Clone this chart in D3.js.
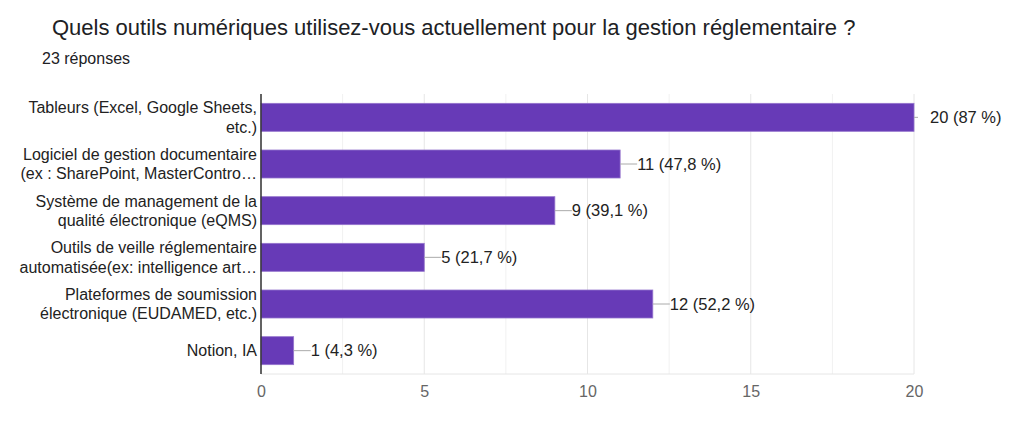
<!DOCTYPE html>
<html>
<head>
<meta charset="utf-8">
<script src="https://cdn.jsdelivr.net/npm/d3@7"></script>
<style>
  body { margin: 0; background: #fff; }
  svg { font-family: Arial, "Liberation Sans", sans-serif; }
</style>
</head>
<body>
<div id="chart"></div>
<script>
// chart data
const title = "Quels outils numériques utilisez-vous actuellement pour la gestion réglementaire ?";
const subtitle = "23 réponses";
const categories = [
    ["Tableurs (Excel, Google Sheets,", "etc.)"],
    ["Logiciel de gestion documentaire", "(ex : SharePoint, MasterContro\u2026"],
    ["Système de management de la", "qualité électronique (eQMS)"],
    ["Outils de veille réglementaire", "automatisée(ex: intelligence art\u2026"],
    ["Plateformes de soumission", "électronique (EUDAMED, etc.)"],
    ["Notion, IA"]
];
const counts = [20, 11, 9, 5, 12, 1];
const valueLabels = ["20 (87 %)", "11 (47,8 %)", "9 (39,1 %)", "5 (21,7 %)", "12 (52,2 %)", "1 (4,3 %)"];
const xTicks = [0, 5, 10, 15, 20];
const gridTicks = [0, 2.5, 5, 7.5, 10, 12.5, 15, 17.5, 20];

const width = 1024, height = 422;
const margin = { left: 261, right: 110, top: 94, bottom: 48 };
const chartWidth = width - margin.left - margin.right;
const chartHeight = height - margin.top - margin.bottom;

const svg = d3.select("#chart").append("svg")
    .attr("width", width)
    .attr("height", height);

// Titles
svg.append("text")
    .attr("x", 52).attr("y", 35)
    .attr("font-size", 22)
    .attr("fill", "#202124")
    .text(title);

svg.append("text")
    .attr("x", 42).attr("y", 64)
    .attr("font-size", 16)
    .attr("fill", "#202124")
    .text(subtitle);

const xScale = d3.scaleLinear().domain([0, 20]).range([0, chartWidth]);
const yScale = d3.scaleBand()
    .domain(d3.range(counts.length))
    .range([0, chartHeight])
    .paddingInner(0.4)
    .paddingOuter(0.2);

const g = svg.append("g")
    .attr("transform", "translate(" + margin.left + "," + margin.top + ")");

// grid lines
g.selectAll("line.grid").data(gridTicks).enter()
    .append("line")
    .attr("class", "grid")
    .attr("x1", (d) => xScale(d)).attr("x2", (d) => xScale(d))
    .attr("y1", 0).attr("y2", chartHeight)
    .attr("stroke", (d) => d % 5 === 0 ? "#e6e6e6" : "#f1f1f1")
    .attr("stroke-width", 1);

g.append("line")
    .attr("x1", 0).attr("x2", chartWidth)
    .attr("y1", chartHeight).attr("y2", chartHeight)
    .attr("stroke", "#e6e6e6");

// bars
g.selectAll("rect.bar").data(counts).enter()
    .append("rect")
    .attr("class", "bar")
    .attr("x", 0)
    .attr("y", (d, i) => yScale(i))
    .attr("width", (d) => xScale(d))
    .attr("height", yScale.bandwidth())
    .attr("fill", "#673ab7")
    .attr("stroke", "#9575cd")
    .attr("stroke-width", 0.8);

// leader lines + value labels
const lead = g.selectAll("g.val").data(counts).enter()
    .append("g")
    .attr("class", "val")
    .attr("transform", (d, i) => "translate(" + xScale(d) + "," + (yScale(i) + yScale.bandwidth() / 2) + ")");

lead.append("line")
    .attr("x1", 0)
    .attr("x2", (d) => d === 20 ? 4 : 17)
    .attr("stroke", "#aaaaaa")
    .attr("stroke-width", 1);

lead.append("text")
    .attr("x", (d) => d === 20 ? 16 : 17)
    .attr("dy", "0.35em")
    .attr("font-size", 16.5)
    .attr("fill", "#222")
    .text((d, i) => valueLabels[i]);

// category labels
const lab = g.selectAll("text.cat").data(categories).enter()
    .append("text")
    .attr("class", "cat")
    .attr("text-anchor", "end")
    .attr("font-size", 16)
    .attr("fill", "#222")
    .attr("transform", (d, i) => "translate(-4," + (yScale(i) + yScale.bandwidth() / 2) + ")");

lab.selectAll("tspan").data((d) => d.map((t, j) => ({ t: t, j: j, n: d.length }))).enter()
    .append("tspan")
    .attr("x", 0)
    .attr("y", (d) => (d.j - (d.n - 1) / 2) * 19.5)
    .attr("dy", "0.35em")
    .text((d) => d.t);

// axes
const xAxis = d3.axisBottom(xScale).tickValues(xTicks).tickSize(0).tickPadding(12);
const xg = g.append("g")
    .attr("transform", "translate(0," + chartHeight + ")")
    .call(xAxis);
xg.select(".domain").remove();
xg.selectAll("text")
    .attr("font-size", 16)
    .attr("font-family", null)
    .attr("fill", "#666");

g.append("line")
    .attr("x1", 0).attr("x2", 0)
    .attr("y1", 0).attr("y2", chartHeight)
    .attr("stroke", "#333")
    .attr("stroke-width", 1.5);
</script>
</body>
</html>
